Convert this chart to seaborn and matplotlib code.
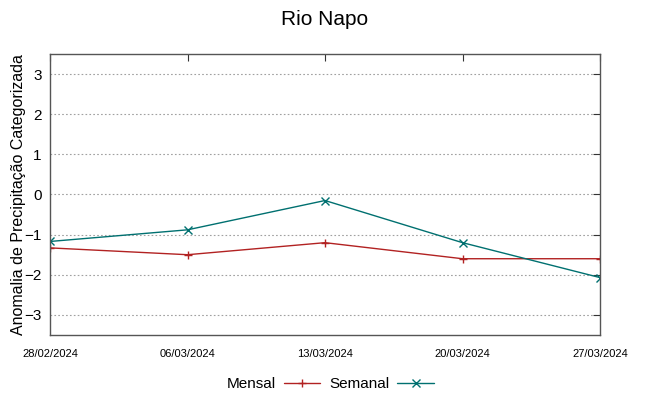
import numpy as np
import pandas as pd
import matplotlib
matplotlib.use("Agg")
import matplotlib.pyplot as plt
import seaborn as sns

datas = ["28/02/2024", "06/03/2024", "13/03/2024", "20/03/2024", "27/03/2024"]
mensal = [-1.33, -1.5, -1.2, -1.6, -1.6]
semanal = [-1.17, -0.88, -0.15, -1.2, -2.07]

sns.set_style("white")
plt.rcParams['font.family'] = ['Liberation Sans', 'DejaVu Sans']
plt.rcParams['text.color'] = 'black'
plt.rcParams['xtick.color'] = 'black'
plt.rcParams['ytick.color'] = 'black'
plt.rcParams['axes.labelcolor'] = 'black'

dt = pd.to_datetime(datas, format="%d/%m/%Y")
df = pd.DataFrame({"data": list(dt) * 2,
                   "valor": mensal + semanal,
                   "serie": ["Mensal"] * 5 + ["Semanal"] * 5})

fig = plt.figure(figsize=(6.49, 3.96), dpi=100)
ax = fig.add_axes([50 / 649, 1 - 335 / 396, 550 / 649, 281 / 396])

cores = {"Mensal": "#b22222", "Semanal": "#007070"}
marcas = {"Mensal": "+", "Semanal": "x"}
for nome, g in df.groupby("serie"):
    sns.lineplot(data=g, x="data", y="valor", ax=ax, color=cores[nome],
                 marker=marcas[nome], markersize=5.5, markeredgewidth=1,
                 markeredgecolor=cores[nome],
                 linewidth=1, label=nome)

ax.set_xlim(dt[0], dt[-1])
ax.set_ylim(-3.5, 3.5)
ax.set_xticks(dt)
ax.set_xticklabels(datas, fontsize=8)
ax.set_yticks(range(-3, 4))
ax.tick_params(axis="y", labelsize=11, direction="in", right=True, length=5,
               color="#333333", labelcolor="black", pad=6)
ax.tick_params(axis="x", direction="in", top=True, length=5,
               color="#333333", labelcolor="black", pad=10)
ax.yaxis.grid(True, linestyle=(0, (1.5, 2)), color="#a0a0a0", linewidth=0.8)
for s in ax.spines.values():
    s.set_color("#555555")
    s.set_linewidth(1)
ax.set_xlabel("")
ax.set_ylabel("Anomalia de Precipitação Categorizada", fontsize=11.5)
ax.yaxis.set_label_coords(-0.044, 0.5)
fig.suptitle("Rio Napo", fontsize=15, y=0.975)

ax.legend(loc="upper center", bbox_to_anchor=(0.51, -0.1), ncol=2, frameon=False,
          markerfirst=False, fontsize=11, handlelength=2.4, columnspacing=0.6,
          handletextpad=0.5)

fig.savefig("out.png", dpi=100)
